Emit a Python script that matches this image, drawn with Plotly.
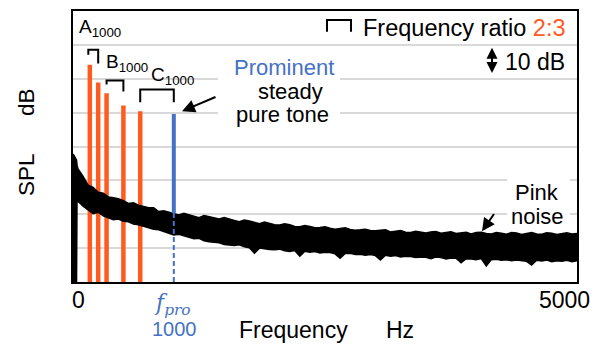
import plotly.graph_objects as go

# ---------------- data ----------------
tone_freq = [167, 250, 333, 500, 667]          # Hz, orange partials (A, B, C pairs)
tone_level = [64.1, 58.9, 55.7, 52.1, 50.4]    # dB (relative)
pro_freq = 1000                                # Hz, prominent pure tone
pro_level = 49.6                               # dB

noise_freq = [0, 35, 40] + list(range(50, 5001, 50))
noise_upper = [37.8, 36.0, 34.5,
               33.4, 31.2, 28.6, 27.9, 26.5, 26.2, 25.1, 24.9, 24.6, 24.0,
               23.2, 23.4, 22.7, 22.3, 21.9, 21.9, 20.8, 21.0, 20.6, 20.4,
               19.8, 20.3, 19.9, 19.6, 19.0, 19.6, 19.3, 18.8, 18.6, 19.0,
               18.5, 18.2, 17.8, 18.3, 18.0, 17.6, 17.2, 17.7, 17.3, 16.9,
               16.8, 17.2, 16.9, 16.4, 16.3, 16.7, 16.4, 16.0, 16.1, 16.3,
               15.9, 15.6, 15.8, 16.0, 15.5, 15.3, 15.4, 15.6, 15.2, 15.1,
               15.3, 15.4, 14.8, 15.0, 15.2, 14.7, 14.6, 15.0, 14.8, 14.5,
               14.8, 14.9, 14.4, 14.6, 14.8, 14.3, 14.5, 14.7, 14.2, 14.6,
               14.7, 14.3, 14.2, 14.6, 14.4, 14.1, 14.6, 14.5, 14.0, 14.4,
               14.6, 14.2, 14.1, 14.5, 14.4, 14.0, 14.3, 14.5, 14.2, 14.3]
noise_lower = [0.0, 0.0, 24.5,
               23.8, 22.4, 21.3, 20.2, 20.6, 19.5, 19.0, 18.4, 18.6, 17.9,
               17.8, 17.1, 16.9, 16.6, 16.1, 15.6, 15.4, 14.9, 14.4, 13.9,
               14.1, 13.6, 13.2, 12.8, 12.9, 12.2, 11.9, 11.7, 11.6, 11.1,
               10.9, 10.8, 11.0, 10.4, 10.1, 8.5, 10.0, 9.8, 9.6, 9.5,
               9.7, 9.2, 9.0, 9.3, 7.6, 9.1, 8.8, 9.0, 8.6, 8.8,
               8.7, 8.3, 7.0, 8.4, 8.5, 8.1, 8.2, 7.9, 8.1, 7.8,
               6.5, 7.9, 7.6, 7.8, 7.4, 7.6, 7.5, 7.2, 7.4, 7.3,
               6.9, 7.4, 7.2, 6.8, 7.1, 7.0, 5.7, 6.9, 6.8, 6.6,
               6.9, 4.7, 6.6, 6.7, 6.4, 6.6, 6.3, 6.5, 6.4, 6.1,
               5.0, 6.4, 6.2, 6.5, 6.0, 6.3, 6.1, 6.4, 6.0, 6.3]

x_ticks = [0, 5000]
x_ticktext = ["0", "5000"]

# ---------------- layout helpers ----------------
W, H = 606, 345
ML, MR, MT, MB = 73, 29, 9, 63
XR = [0, 5000]
YR = [0, 80]
PW, PH = W - ML - MR, H - MT - MB


def fx(px):
    return XR[0] + (px - ML) / PW * (XR[1] - XR[0])


def dy(py):
    return YR[1] - (py - MT) / PH * (YR[1] - YR[0])


def px2paper(px, py):
    return (px - ML) / PW, 1 - (py - MT) / PH


RED = "#FF5A1F"
BLUE = "#4472C4"
FONT = "Arial, Liberation Sans, sans-serif"

fig = go.Figure()

# orange partial tones (behind the noise)
rx, ry = [], []
for f, l in zip(tone_freq, tone_level):
    rx += [f, f, None]
    ry += [YR[0], l, None]
fig.add_trace(go.Scatter(x=rx, y=ry, mode="lines",
                         line=dict(color=RED, width=4.5), hoverinfo="skip"))

# pink noise band
fig.add_trace(go.Scatter(x=noise_freq + noise_freq[::-1],
                         y=noise_upper + noise_lower[::-1],
                         mode="lines", fill="toself", fillcolor="black",
                         line=dict(color="black", width=1.5), hoverinfo="skip"))

# prominent tone
noise_at_pro = noise_upper[noise_freq.index(pro_freq)]
fig.add_trace(go.Scatter(x=[pro_freq, pro_freq], y=[noise_at_pro, pro_level],
                         mode="lines", line=dict(color=BLUE, width=4), hoverinfo="skip"))
fig.add_trace(go.Scatter(x=[pro_freq, pro_freq], y=[YR[0], noise_at_pro],
                         mode="lines", line=dict(color=BLUE, width=2, dash="5px,3px"),
                         hoverinfo="skip"))

shapes = []
# white boxes behind the text blocks (hide gridlines)
shapes.append(dict(type="rect", xref="x", yref="y", x0=fx(218), x1=fx(340), y0=dy(126), y1=dy(50),
                   fillcolor="white", line=dict(width=0), layer="above"))
shapes.append(dict(type="rect", xref="x", yref="y", x0=fx(507), x1=fx(570), y0=dy(226), y1=dy(172),
                   fillcolor="white", line=dict(width=0), layer="above"))


def bracket(x1, x2, ytop, yl, yr):
    return dict(type="path", xref="x", yref="y",
                path=f"M {x1},{yl} L {x1},{ytop} L {x2},{ytop} L {x2},{yr}",
                line=dict(color="black", width=2))


shapes.append(bracket(tone_freq[0] - 15, tone_freq[1], dy(48), dy(53), dy(62)))
shapes.append(bracket(tone_freq[2], tone_freq[3], dy(79), dy(83), dy(90)))
shapes.append(bracket(tone_freq[4], pro_freq, dy(88), dy(101), dy(101)))
shapes.append(bracket(fx(327), fx(351), dy(18), dy(30), dy(30)))

ann = []


def txt(text, px, py, size=22, color="black", xanchor="center", family=FONT, angle=0, xshift=0):
    xp, yp = px2paper(px, py)
    d = dict(text=text, x=xp, y=yp, xref="paper", yref="paper", showarrow=False,
             xanchor=xanchor, yanchor="middle", textangle=angle, xshift=xshift,
             font=dict(size=size, color=color, family=family))
    ann.append(d)


txt("A<sub>1000</sub>", 77, 26, size=19, xanchor="left")
txt("B<sub>1000</sub>", 104, 61, size=19, xanchor="left")
txt("C<sub>1000</sub>", 149, 74, size=19, xanchor="left")
txt("Prominent", 284, 66, color=BLUE)
txt("steady", 290, 90)
txt("pure tone", 282, 113)
txt("Frequency ratio <span style='color:%s'>2:3</span>" % RED, 567, 26, size=23.5, xanchor="right")
txt("10 dB", 567, 60, size=23, xanchor="right")
txt("Pink", 537, 192)
txt("noise", 537, 216)
txt("<i>f</i><sub><i>pro</i></sub>", 172, 305, size=22, color=BLUE, family="DejaVu Serif, serif")
txt("1000", 174.5, 329.5, size=20, color=BLUE)
txt("Frequency\u00a0\u00a0\u00a0\u00a0\u00a0 Hz", 237, 330, size=23, xanchor="left")
txt("SPL\u00a0\u00a0\u00a0\u00a0\u00a0 dB", 26, 141, size=22.5, angle=-90)
for v, t, sh in zip(x_ticks, x_ticktext, [5, -13]):
    px = ML + (v - XR[0]) / (XR[1] - XR[0]) * PW
    txt(t, px, 300, size=23, xshift=sh)

# arrows
ann.append(dict(x=fx(182), y=dy(110), ax=fx(217), ay=dy(95), axref="x", ayref="y",
                xref="x", yref="y", text="", showarrow=True, arrowhead=2,
                arrowsize=1.3, arrowwidth=2, arrowcolor="black"))
ann.append(dict(x=fx(482), y=dy(231), ax=fx(495), ay=dy(212), axref="x", ayref="y",
                xref="x", yref="y", text="", showarrow=True, arrowhead=2,
                arrowsize=1.3, arrowwidth=2, arrowcolor="black"))
ann.append(dict(x=fx(492), y=dy(46), ax=fx(492), ay=dy(73), axref="x", ayref="y",
                xref="x", yref="y", text="", showarrow=True, arrowhead=2, startarrowhead=2,
                arrowside="end+start", arrowsize=1.1, startarrowsize=1.1,
                arrowwidth=2, arrowcolor="black"))

fig.update_layout(
    width=W, height=H, margin=dict(l=ML, r=MR, t=MT, b=MB),
    paper_bgcolor="white", plot_bgcolor="white", showlegend=False,
    shapes=shapes, annotations=ann,
    xaxis=dict(range=XR, showticklabels=False, ticks="", showgrid=False, zeroline=False,
               showline=True, linecolor="black", linewidth=1.5, mirror=True,
               tickvals=x_ticks),
    yaxis=dict(range=YR, showticklabels=False, ticks="", showgrid=True,
               gridcolor="#d9d9d9", gridwidth=2, tickvals=[10, 20, 30, 40, 50, 60, 70],
               zeroline=False, showline=True, linecolor="black", linewidth=2, mirror=True),
)

fig.write_html("out.html")
